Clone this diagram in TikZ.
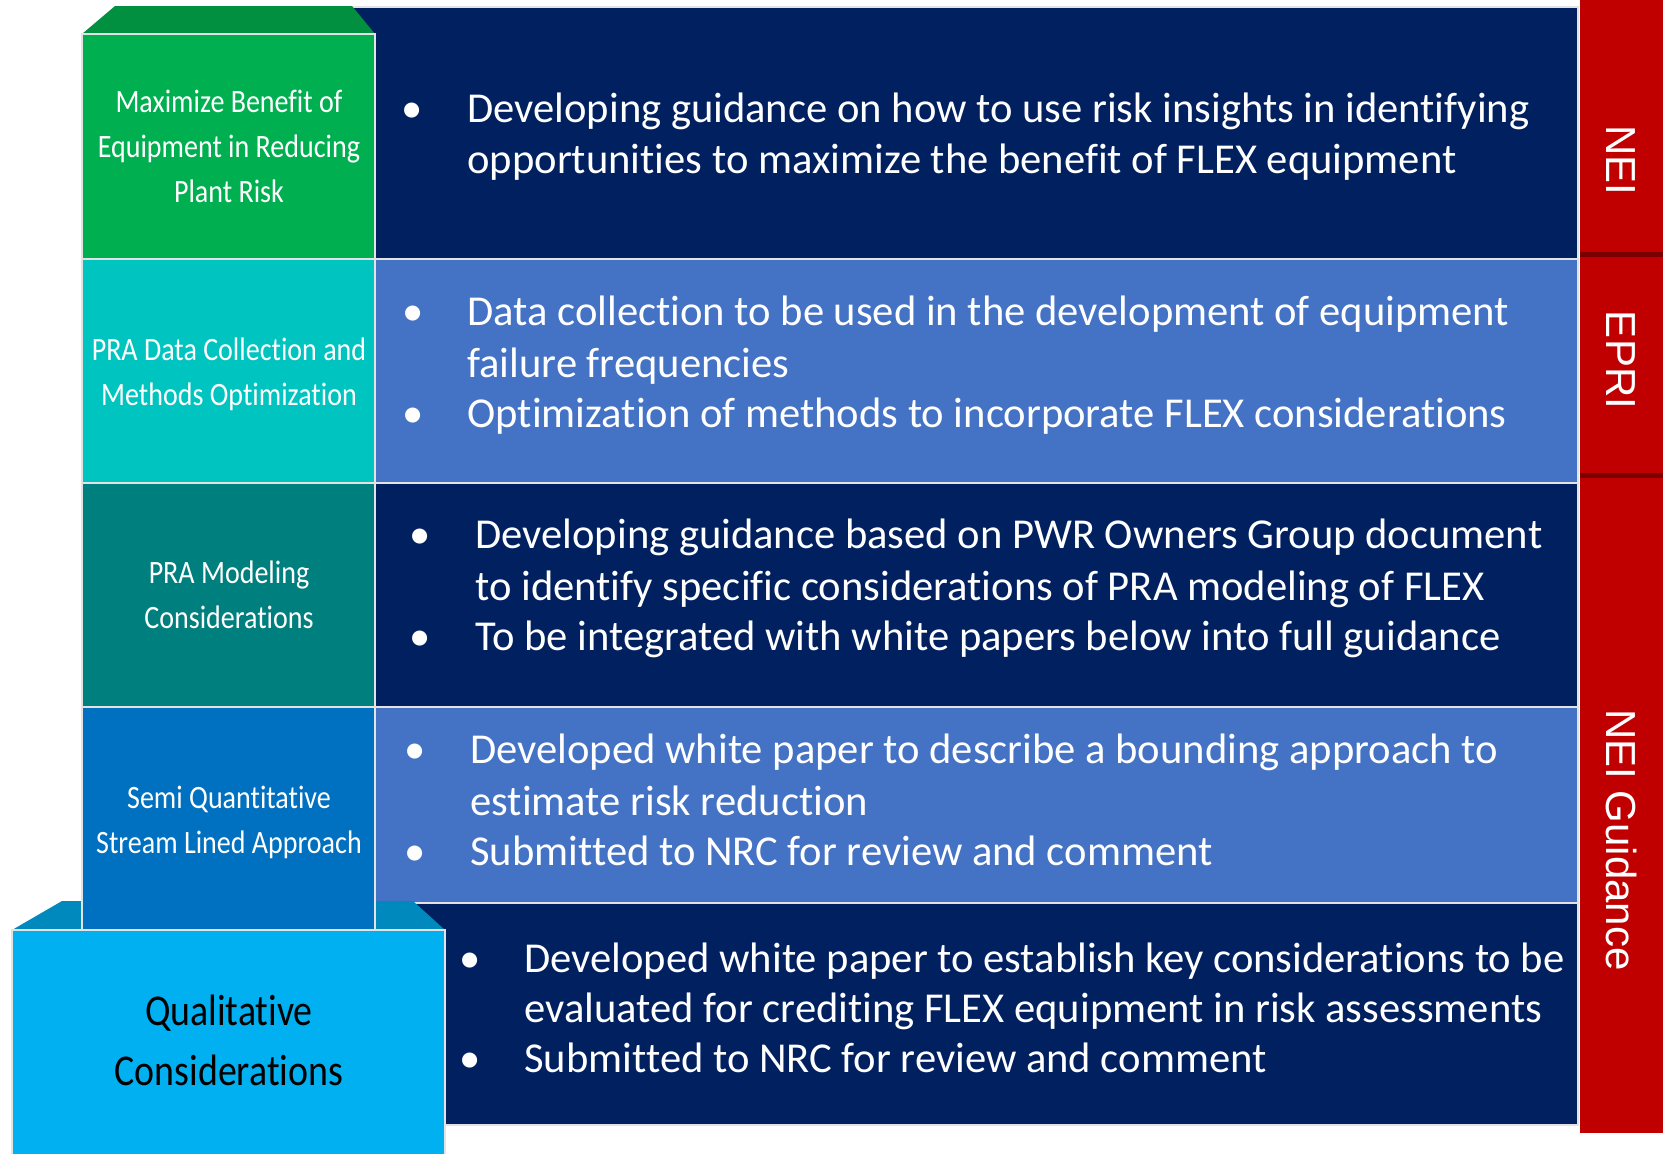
\documentclass[tikz,border=0pt]{standalone}
\usepackage{fontspec}
\setmainfont[Ligatures=NoCommon]{Carlito}
\newfontfamily\narrowfont[FakeStretch=0.86,Ligatures=NoCommon]{Carlito}
\newfontfamily\tabfont{Liberation Sans}
\usetikzlibrary{positioning}

\definecolor{navy}{HTML}{002060}
\definecolor{midblue}{HTML}{4472C4}
\definecolor{leafgreen}{HTML}{00B050}
\definecolor{leafgreendark}{HTML}{00903F}
\definecolor{aqua}{HTML}{00C4C0}
\definecolor{darkteal}{HTML}{007F7F}
\definecolor{stepblue}{HTML}{0070C0}
\definecolor{skyblue}{HTML}{00B0F0}
\definecolor{skybluedark}{HTML}{0089BC}
\definecolor{tabred}{HTML}{C00000}
\definecolor{tabshade}{HTML}{7A0000}

\begin{document}
\begin{tikzpicture}[x=0.5pt,y=-0.5pt,>=latex]

	\tikzstyle{panel}=[draw=white!78!gray,line width=1pt]
	\tikzstyle{bodytext}=[text=white,anchor=base west,inner sep=0pt,font=\fontsize{21.3}{25.5}\selectfont]
	\tikzstyle{bulletdot}=[text=white,anchor=base,inner sep=0pt,font=\fontsize{21.3}{25.5}\selectfont]
	\tikzstyle{steplabel}=[text=white,align=center,anchor=base,inner sep=0pt,font=\narrowfont\fontsize{16.3}{22.5}\selectfont]
	\tikzstyle{tabtext}=[text=white,rotate=-90,inner sep=0pt,font=\tabfont\fontsize{21}{24}\selectfont]

	\useasboundingbox (0,0) rectangle (1669,1153);
	\clip (0,0) rectangle (1669,1153);

	% right hand panels
	\path[panel,fill=navy] (352,7) rectangle (1578,259);
	\path[panel,fill=midblue] (375,259) rectangle (1578,483);
	\path[panel,fill=navy] (375,483) rectangle (1578,707);
	\path[panel,fill=midblue] (375,707) rectangle (1578,903);
	\path[panel,fill=navy] (375,903) rectangle (1578,1125);

	% stacked steps
	\path[fill=leafgreendark] (82,34) -- (115,6) -- (352,6) -- (375,34) -- cycle;
	\path[panel,fill=leafgreen] (82,34) rectangle (375,259);
	\path[panel,fill=aqua] (82,259) rectangle (375,483);
	\path[panel,fill=darkteal] (82,483) rectangle (375,707);
	\path[fill=skybluedark] (12,930) -- (62,901) -- (413,901) -- (445,930) -- cycle;
	\path[panel,fill=stepblue] (82,707) rectangle (375,930);
	\path[panel,fill=skyblue] (12,930) rectangle (445,1170);

	% red tabs
	\fill[tabshade] (1580,0) rectangle (1663,257);
	\fill[tabred] (1580,0) rectangle (1663,252);
	\fill[tabshade] (1580,256) rectangle (1663,478);
	\fill[tabred] (1580,257) rectangle (1663,473);
	\fill[tabred] (1580,478) rectangle (1663,1133);

	\node[tabtext] (nei) at (1621,160) {NEI};
	\node[tabtext] (epri) at (1621,360) {EPRI};
	\node[tabtext] (guide) at (1621,840) {NEI Guidance};

	% step labels (anchored on the last line)
	\node[steplabel] (maxben) at (229,202) {Maximize Benefit of\\Equipment in Reducing\\Plant Risk};
	\node[steplabel] (datacol) at (229,405) {PRA Data Collection and\\Methods Optimization};
	\node[steplabel] (model) at (229,628) {PRA Modeling\\Considerations};
	\node[steplabel] (semi) at (229,853) {Semi Quantitative\\Stream Lined Approach};
	\node[steplabel,text=black,font=\narrowfont\fontsize{22}{30}\selectfont] (qual) at (229,1085) {Qualitative\\Considerations};

	% bullets
	\node[bulletdot] (d1) at (412,122) {\textbullet};
	\node[bodytext] (t1a) at (467,122) {Developing guidance on how to use risk insights in identifying};
	\node[bodytext] (t1b) at (467,173) {opportunities to maximize the benefit of FLEX equipment};

	\node[bulletdot] (d2a) at (413,325) {\textbullet};
	\node[bodytext] (t2a) at (467,325) {Data collection to be used in the development of equipment};
	\node[bodytext] (t2b) at (467,377) {failure frequencies};
	\node[bulletdot] (d2b) at (413,427) {\textbullet};
	\node[bodytext] (t2c) at (467,427) {Optimization of methods to incorporate FLEX considerations};

	\node[bulletdot] (d3a) at (420,548) {\textbullet};
	\node[bodytext] (t3a) at (475,548) {Developing guidance based on PWR Owners Group document};
	\node[bodytext] (t3b) at (475,600) {to identify specific considerations of PRA modeling of FLEX};
	\node[bulletdot] (d3b) at (420,650) {\textbullet};
	\node[bodytext] (t3c) at (475,650) {To be integrated with white papers below into full guidance};

	\node[bulletdot] (d4a) at (415,763) {\textbullet};
	\node[bodytext] (t4a) at (470,763) {Developed white paper to describe a bounding approach to};
	\node[bodytext] (t4b) at (470,815) {estimate risk reduction};
	\node[bulletdot] (d4b) at (415,865) {\textbullet};
	\node[bodytext] (t4c) at (470,865) {Submitted to NRC for review and comment};

	\node[bulletdot] (d5a) at (470,972) {\textbullet};
	\node[bodytext] (t5a) at (524,972) {Developed white paper to establish key considerations to be};
	\node[bodytext] (t5b) at (524,1022) {evaluated for crediting FLEX equipment in risk assessments};
	\node[bulletdot] (d5b) at (470,1072) {\textbullet};
	\node[bodytext] (t5c) at (524,1072) {Submitted to NRC for review and comment};

\end{tikzpicture}
\end{document}
